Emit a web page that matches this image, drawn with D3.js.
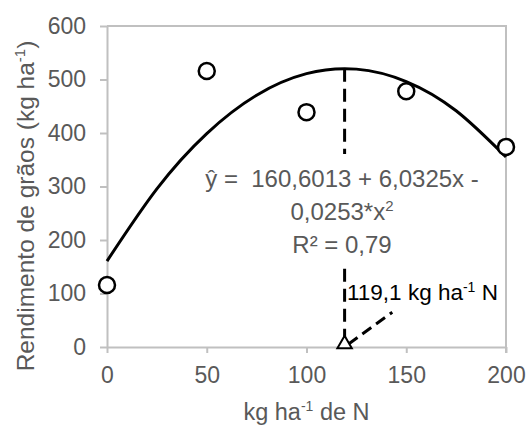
<!DOCTYPE html>
<html>
<head>
<meta charset="utf-8">
<script src="https://cdn.jsdelivr.net/npm/d3@7"></script>
<style>
  body { margin: 0; background: #fff; }
  text { font-family: "Liberation Sans", Arial, sans-serif; }
</style>
</head>
<body>
<div id="chart"></div>
<script>
const WIDTH = 526;
const HEIGHT = 425;

// observed points
const doses = [0, 50, 100, 150, 200];
const yields = [116, 516, 439, 478, 374];

// trendline values
const trendX = [0, 25, 50, 75, 100, 125, 150, 175, 200];
const trendY = [160.6, 295.6, 399.0, 470.7, 510.9, 519.4, 496.2, 441.5, 355.1];

// maximum point and label arrow end
const optimum = { x: 119.1, y: 520.2 };
const arrowEnd = { x: 143, y: 65 };

const xTicks = [0, 50, 100, 150, 200];
const yTicks = [0, 100, 200, 300, 400, 500, 600];

const eqLines = ['ŷ =\u00a0\u00a0160,6013 + 6,0325x -', '0,0253*x', 'R² = 0,79'];

const margin = { left: 107, right: 20, top: 26, bottom: 78 };
const GRID = '#c0c0c0';
const LABEL = '#595959';

const xScale = d3.scaleLinear()
  .domain([0, 200])
  .range([margin.left, WIDTH - margin.right]);

const yScale = d3.scaleLinear()
  .domain([0, 600])
  .range([HEIGHT - margin.bottom, margin.top]);

const svg = d3.select('#chart')
  .append('svg')
  .attr('width', WIDTH)
  .attr('height', HEIGHT);

// plot border (top / right)
svg.append('path')
  .attr('d', `M${xScale(0)},${yScale(600)}H${xScale(200)}V${yScale(0) + 6}`)
  .attr('fill', 'none')
  .attr('stroke', GRID)
  .attr('stroke-width', 2);

const xAxis = svg.append('g')
  .attr('transform', `translate(0, ${yScale(0)})`)
  .call(d3.axisBottom(xScale).tickValues(xTicks).tickSize(6).tickSizeOuter(0).tickPadding(14));

const yAxis = svg.append('g')
  .attr('transform', `translate(${xScale(0)}, 0)`)
  .call(d3.axisLeft(yScale).tickValues(yTicks).tickSize(7).tickSizeOuter(0).tickPadding(14));

[xAxis, yAxis].forEach(ax => {
  ax.selectAll('path, line').attr('stroke', GRID).attr('stroke-width', 2);
  ax.selectAll('text')
    .attr('fill', LABEL)
    .style('font-size', '23px')
    .style('font-family', '"Liberation Sans", Arial, sans-serif');
});

// axis titles
const xTitle = svg.append('text')
  .attr('x', (xScale(0) + xScale(200)) / 2)
  .attr('y', 420)
  .attr('text-anchor', 'middle')
  .attr('fill', LABEL)
  .style('font-size', '23.5px');
xTitle.append('tspan').text('kg ha');
xTitle.append('tspan').text('-1').style('font-size', '14px').attr('dy', -9);
xTitle.append('tspan').text(' de N').attr('dy', 9);

const yTitle = svg.append('text')
  .attr('transform', 'translate(34, 206) rotate(-90)')
  .attr('text-anchor', 'middle')
  .attr('fill', LABEL)
  .style('font-size', '24.5px');
yTitle.append('tspan').text('Rendimento de grãos (kg ha');
yTitle.append('tspan').text('-1').style('font-size', '15px').attr('dy', -9);
yTitle.append('tspan').text(')').attr('dy', 9);

// trendline
const line = d3.line()
  .x(d => xScale(d[0]))
  .y(d => yScale(d[1]))
  .curve(d3.curveNatural);

svg.append('path')
  .datum(trendX.map((x, i) => [x, trendY[i]]))
  .attr('d', line)
  .attr('fill', 'none')
  .attr('stroke', '#000')
  .attr('stroke-width', 3);

// dashed vertical at maximum
svg.append('line')
  .attr('x1', xScale(optimum.x))
  .attr('x2', xScale(optimum.x))
  .attr('y1', yScale(optimum.y))
  .attr('y2', yScale(0))
  .attr('stroke', '#000')
  .attr('stroke-width', 3)
  .attr('stroke-dasharray', '13,7');

// dashed pointer to label
svg.append('line')
  .attr('x1', xScale(optimum.x) + 4)
  .attr('y1', yScale(0) - 3)
  .attr('x2', xScale(arrowEnd.x))
  .attr('y2', yScale(arrowEnd.y))
  .attr('stroke', '#000')
  .attr('stroke-width', 3)
  .attr('stroke-dasharray', '11,6');

// triangle marker
svg.append('path')
  .attr('d', d3.symbol().type(d3.symbolTriangle).size(90))
  .attr('transform', `translate(${xScale(optimum.x)}, ${yScale(0) - 3})`)
  .attr('fill', '#fff')
  .attr('stroke', '#000')
  .attr('stroke-width', 2);

// observed points
svg.selectAll('circle.obs')
  .data(doses)
  .enter()
  .append('circle')
  .attr('class', 'obs')
  .attr('cx', d => xScale(d))
  .attr('cy', (d, i) => yScale(yields[i]))
  .attr('r', 8)
  .attr('fill', '#fff')
  .attr('stroke', '#000')
  .attr('stroke-width', 2.5);

// equation label box (white background hides the dashed line)
svg.append('rect')
  .attr('x', 205)
  .attr('y', 154)
  .attr('width', 275)
  .attr('height', 108)
  .attr('fill', '#fff');

const eqY = [187, 220, 253];
eqLines.forEach((t, i) => {
  const txt = svg.append('text')
    .attr('x', 342)
    .attr('y', eqY[i])
    .attr('text-anchor', 'middle')
    .attr('fill', LABEL)
    .style('font-size', '24px');
  txt.append('tspan').text(t);
  if (i === 1) {
    txt.append('tspan').text('2').style('font-size', '15px').attr('dy', -9);
  }
});

// optimum label
const optLabel = svg.append('text')
  .attr('x', 347)
  .attr('y', 300)
  .attr('fill', '#000')
  .style('font-size', '22.5px');
optLabel.append('tspan').text(`${String(optimum.x).replace('.', ',')} kg ha`);
optLabel.append('tspan').text('-1').style('font-size', '14px').attr('dy', -8);
optLabel.append('tspan').text(' N').attr('dy', 8);
</script>
</body>
</html>
